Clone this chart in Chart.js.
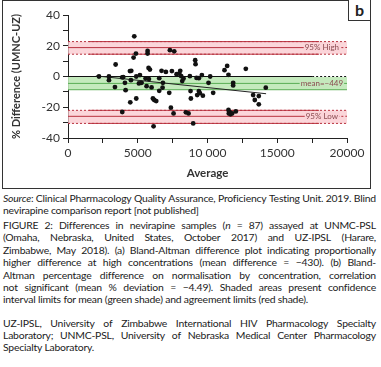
<!DOCTYPE html>
<html>
<head>
<meta charset="utf-8">
<script src="https://cdn.jsdelivr.net/npm/chart.js@4.4.1/dist/chart.umd.min.js"></script>
<style>
    body { margin: 0; background: #fff; width: 381px; height: 367px; overflow: hidden; position: relative; font-family: Lato, sans-serif; color: #222; }
    #frame { position: absolute; left: 2px; top: 0; width: 367px; height: 187px; border: 1px solid #333; }
    #tag { position: absolute; left: 348px; top: 0; width: 21px; height: 20px; border-left: 1px solid #333; border-bottom: 1px solid #333; font: bold 16px Lato, sans-serif; text-align: center; line-height: 19px; background: #fff; }
    #wrap { position: absolute; left: 0; top: 0; width: 381px; height: 190px; }
    .ln { position: absolute; left: 3px; width: 373px; height: 12px; line-height: 12px; font-size: 10.4px; letter-spacing: -0.2px; white-space: nowrap; }
    .ln.just { display: flex; justify-content: space-between; }
</style>
</head>
<body>
<div id="wrap"><canvas id="chart" width="381" height="190"></canvas></div>
<div id="frame"></div>
<div id="tag">b</div>
<div id="caption"></div>
<script>
// values: average concentration vs % difference
const avgValues = [2220, 2936, 2936, 3413, 3366, 3890, 3890, 3960, 4082, 4130, 4440, 4512, 4464, 4535, 4750,
    4702, 4870, 4893, 4893, 5084, 5156, 5275, 5562, 5633, 5705, 5705, 5776, 5872, 5800, 5991,
    6087, 6134, 6182, 6325, 6540, 6540, 6707, 6779, 6803, 7018, 7257, 7305, 7376, 7448, 7567,
    7615, 7782, 7973, 8045, 8116, 8188, 8283, 8450, 8641, 8737, 8784, 8808, 8975, 9118, 9142,
    9214, 9261, 9380, 9380, 9452, 9596, 9667, 10073, 10192, 10407, 11218, 11409, 11504, 11504, 11528,
    11600, 11648, 11767, 11839, 11839, 12030, 12746, 13271, 13391, 13677, 13677, 14178];
const diffValues = [0, 0, -2.4, 7.8, -6.9, -23.1, -0.6, -0.4, -4.1, -8.9, 3.5, -2.4, -16.8, 3.7, 26.1,
    12.3, 14.9, -14.3, 0, -4.5, 0.9, -4.1, -1.3, -6.3, 16.6, 14.9, 5.6, 4.5, -1.7, -7.1,
    -14.3, -32.4, -15.3, -16, -1.1, -9.3, 3.7, -7.3, -4.1, 3.0, -10.6, 17.1, -20.3, 3.5, -24,
    16.4, 1.5, 1.9, 3.7, 0.2, -3, -1.3, -23.3, -24, 0.2, -9.5, -14.3, -30.5, 10.6, 8,
    -0.9, -12.1, -1.1, -9.5, -10.8, 0.9, -12.5, -4.1, 0, -10.6, 4.1, 6.9, 1.1, -21.8, -24,
    -23.2, -24.6, -24, -4.1, -5.8, -22.7, 5, -12.1, -15.3, -12.7, -18.1, -7.3];

// fitted trend line end points
const trendX = [2000, 14200];
const trendY = [0.4, -11.2];

// limits: [top edge, centre line, bottom edge]
const upperLimits = [22.7, 18.8, 14.5];
const meanLimits = [-0.3, -4.49, -8.6];
const lowerLimits = [-22.0, -25.9, -30.5];
const limitLabels = ["95% High", "mean=\u2212449", "95% Low"];
const labelAt = 18200;

const xTickLabels = { 0: "0", 5000: "5000", 10000: "10 000", 15000: "15000", 20000: "20000" };
const yTickLabels = { 40: "40", 20: "20", 0: "0", "-20": "-20", "-40": "-40" };

const sourceLines = [
    "*Source*: Clinical Pharmacology Quality Assurance, Proficiency Testing Unit. 2019. Blind",
    "nevirapine comparison report [not published]"
];
const figureLines = [
    "FIGURE 2: Differences in nevirapine samples (*n* = 87) assayed at UNMC-PSL",
    "(Omaha, Nebraska, United States, October 2017) and UZ-IPSL (Harare,",
    "Zimbabwe, May 2018). (a) Bland-Altman difference plot indicating proportionally",
    "higher difference at high concentrations (mean difference = \u2212430). (b) Bland-",
    "Altman percentage difference on normalisation by concentration, correlation",
    "not significant (mean % deviation = \u22124.49). Shaded areas present confidence",
    "interval limits for mean (green shade) and agreement limits (red shade)."
];
const noteLines = [
    "UZ-IPSL, University of Zimbabwe International HIV Pharmacology Specialty",
    "Laboratory; UNMC-PSL, University of Nebraska Medical Center Pharmacology",
    "Specialty Laboratory."
];

const red = "#b8323f";
const pink = "rgba(250, 200, 206, 0.75)";
const green = "#5aae55";
const lightGreen = "rgba(190, 232, 182, 0.9)";

function hline(y, from, to, color, dash, order) {
    return {
        type: "line",
        data: [{ x: from, y: y }, { x: to, y: y }],
        borderColor: color,
        borderWidth: 1,
        borderDash: dash || [],
        pointRadius: 0,
        fill: false,
        order: order
    };
}

function band(limits, fillColor) {
    return {
        type: "line",
        data: [{ x: 0, y: limits[0] }, { x: 20000, y: limits[0] }],
        borderWidth: 0,
        borderColor: "transparent",
        backgroundColor: fillColor,
        pointRadius: 0,
        fill: { value: limits[2] },
        order: 30
    };
}

function redLines(limits) {
    return [
        hline(limits[0], 0, 20000, red, [2, 2], 20),
        hline(limits[0], 1500, 18000, red, [], 20),
        hline(limits[1], 0, 17300, red, [], 20),
        hline(limits[1], 17300, 20000, red, [2, 2], 20),
        hline(limits[2], 0, 20000, red, [2, 2], 20),
        hline(limits[2], 1500, 18000, red, [], 20)
    ];
}

const datasets = [
    {
        type: "scatter",
        data: avgValues.map((x, i) => ({ x: x, y: diffValues[i] })),
        backgroundColor: "#111",
        borderWidth: 0,
        pointRadius: 2.4,
        order: 0
    },
    {
        type: "line",
        data: trendX.map((x, i) => ({ x: x, y: trendY[i] })),
        borderColor: "#222",
        borderWidth: 1,
        pointRadius: 0,
        fill: false,
        order: 1
    },
    band(upperLimits, pink),
    band(lowerLimits, pink),
    band(meanLimits, lightGreen),
    hline(meanLimits[1], 0, 20000, green, [], 20),
    hline(meanLimits[2], 0, 20000, green, [], 20),
    hline(0, 0, 17500, "#111", [], 15),
    hline(0, 17500, 20000, "#111", [2, 2], 15)
].concat(redLines(upperLimits), redLines(lowerLimits));

const limitText = {
    id: "limitText",
    afterDatasetsDraw(chart) {
        const { ctx, scales } = chart;
        const rows = [[upperLimits[1], "#fbd3d8"], [meanLimits[1], "#c4e9bd"], [lowerLimits[1], "#fbd3d8"]];
        ctx.save();
        ctx.font = "8px Lato, sans-serif";
        ctx.textAlign = "center";
        ctx.textBaseline = "middle";
        rows.forEach((row, i) => {
            const px = scales.x.getPixelForValue(labelAt);
            const py = scales.y.getPixelForValue(row[0]);
            const w = ctx.measureText(limitLabels[i]).width;
            ctx.fillStyle = row[1];
            ctx.fillRect(px - w / 2 - 1, py - 4, w + 2, 8);
            ctx.fillStyle = "#8a4b50";
            ctx.fillText(limitLabels[i], px, py);
        });
        ctx.restore();
    }
};

new Chart(document.getElementById("chart"), {
    type: "scatter",
    data: { datasets: datasets },
    plugins: [limitText],
    options: {
        responsive: false,
        devicePixelRatio: 1,
        animation: false,
        layout: { padding: { left: 0, right: 34, top: 15, bottom: 0 } },
        plugins: { legend: { display: false }, tooltip: { enabled: false } },
        scales: {
            x: {
                type: "linear",
                min: 0,
                max: 20000,
                afterFit: s => { s.height = 52; },
                ticks: {
                    stepSize: 2500,
                    autoSkip: false,
                    maxRotation: 0,
                    padding: 3,
                    color: "#333",
                    font: { family: "Lato", size: 12 },
                    callback: v => xTickLabels[v] || ""
                },
                grid: { drawOnChartArea: false, drawTicks: true, tickLength: 5, color: "#222" },
                border: { display: true, color: "#222" },
                title: { display: true, text: "Average", color: "#333", font: { family: "Lato", size: 11.5, weight: "bold" }, padding: { top: 0, bottom: 10 } }
            },
            y: {
                type: "linear",
                min: -40,
                max: 40,
                afterFit: s => { s.width = 68; },
                ticks: {
                    stepSize: 10,
                    autoSkip: false,
                    padding: 3,
                    color: "#333",
                    font: { family: "Lato", size: 12 },
                    callback: v => yTickLabels[v] || ""
                },
                grid: { drawOnChartArea: false, drawTicks: true, tickLength: 5, color: "#222" },
                border: { display: true, color: "#222" },
                title: { display: true, text: "% Difference (UMNC-UZ)", color: "#333", font: { family: "Lato", size: 11, weight: "bold" }, padding: { top: 10, bottom: 0 } }
            }
        }
    }
});

// caption text under the chart, one block per printed line
function fmt(word) {
    return word.replace(/\*([^*]+)\*/g, "<i>$1</i>");
}
function addLines(lines, firstTop, step) {
    const cap = document.getElementById("caption");
    lines.forEach((text, i) => {
        const div = document.createElement("div");
        const last = i === lines.length - 1;
        div.className = last ? "ln" : "ln just";
        div.style.top = (firstTop + i * step) + "px";
        if (last) {
            div.innerHTML = fmt(text);
        } else {
            div.innerHTML = text.split(" ").map(w => "<span>" + fmt(w) + "</span>").join("");
        }
        cap.appendChild(div);
    });
}
addLines(sourceLines, 192, 12);
addLines(figureLines, 219, 12.4);
addLines(noteLines, 316.5, 12.4);
</script>
</body>
</html>
